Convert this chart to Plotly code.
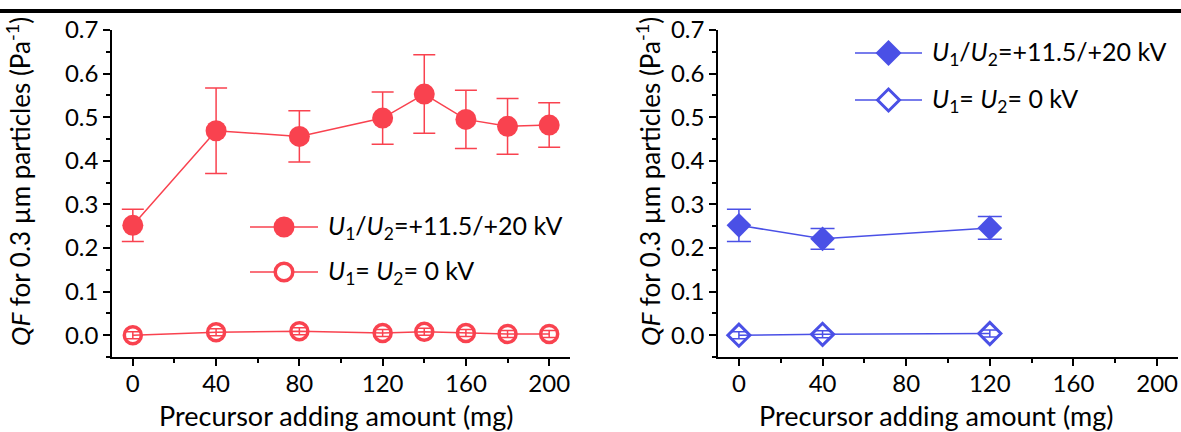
import plotly.graph_objects as go

# ---- data ----
x_left = [0, 40, 80, 120, 140, 160, 180, 200]
qf_left_on = [0.252, 0.469, 0.456, 0.498, 0.553, 0.495, 0.479, 0.482]
err_left_on = [0.037, 0.098, 0.059, 0.060, 0.090, 0.067, 0.064, 0.051]
qf_left_off = [0.000, 0.007, 0.009, 0.005, 0.008, 0.005, 0.003, 0.003]
err_left_off = [0.008, 0.008, 0.008, 0.008, 0.008, 0.008, 0.008, 0.008]

x_right = [0, 40, 120]
qf_right_on = [0.252, 0.221, 0.246]
err_right_on = [0.037, 0.024, 0.026]
qf_right_off = [0.000, 0.002, 0.004]
err_right_off = [0.008, 0.008, 0.008]

x_ticks = [0, 40, 80, 120, 160, 200]
y_ticks = [0.0, 0.1, 0.2, 0.3, 0.4, 0.5, 0.6, 0.7]

name_on = "<i>U</i><sub>1</sub>/<i>U</i><sub>2</sub>=+11.5/+20 kV"
name_off = "<i>U</i><sub>1</sub>= <i>U</i><sub>2</sub>= 0 kV"
y_title = "<i>QF</i> for 0.3 µm particles (Pa<sup>-1</sup>)"
x_title = "Precursor adding amount (mg)"

RED = "#F9424F"
BLUE = "#4A50E6"
FONT = "Lato"
FS_TICK = 24
FS_XTITLE = 27
FS_YTITLE = 26
FS_LEG = 25
W, H = 1181, 432


def px(x):
    return x / W


def py(y):
    return 1 - y / H


fig = go.Figure()

fig.add_trace(go.Scatter(
    x=x_left, y=qf_left_on, mode="lines+markers", name=name_on,
    line=dict(color=RED, width=1.5),
    marker=dict(symbol="circle", size=21, color=RED),
    error_y=dict(type="data", array=err_left_on, color=RED, thickness=1.5, width=11),
    xaxis="x", yaxis="y"))
fig.add_trace(go.Scatter(
    x=x_left, y=qf_left_off, mode="lines+markers", name=name_off,
    line=dict(color=RED, width=1.5),
    marker=dict(symbol="circle-open", size=17, color=RED, line=dict(width=3.5, color=RED)),
    error_y=dict(type="data", array=err_left_off, color=RED, thickness=1.5, width=7),
    xaxis="x", yaxis="y"))
fig.add_trace(go.Scatter(
    x=x_right, y=qf_right_on, mode="lines+markers", name=name_on,
    line=dict(color=BLUE, width=1.5),
    marker=dict(symbol="diamond", size=19, color=BLUE),
    error_y=dict(type="data", array=err_right_on, color=BLUE, thickness=1.5, width=12),
    xaxis="x2", yaxis="y2"))
fig.add_trace(go.Scatter(
    x=x_right, y=qf_right_off, mode="lines+markers", name=name_off,
    line=dict(color=BLUE, width=1.5),
    marker=dict(symbol="diamond-open", size=17, color=BLUE, line=dict(width=3, color=BLUE)),
    error_y=dict(type="data", array=err_right_off, color=BLUE, thickness=1.5, width=8),
    xaxis="x2", yaxis="y2"))

ydom = [py(357), py(30)]
axis_common = dict(
    showline=True, linecolor="black", linewidth=1.5, mirror=False,
    ticks="outside", ticklen=7, tickwidth=1.5, tickcolor="black",
    showgrid=False, zeroline=False, automargin=False,
    tickfont=dict(family=FONT, size=FS_TICK, color="black"),
)
xax = dict(axis_common, range=[-10, 210], tickvals=x_ticks, ticklabelstandoff=-3,
           minor=dict(ticks="outside", ticklen=4, tickwidth=1.5, tickcolor="black", dtick=20, tick0=0))
yax = dict(axis_common, range=[-0.05, 0.7], tickvals=y_ticks, tickformat=".1f",
           minor=dict(ticks="outside", ticklen=4, tickwidth=1.5, tickcolor="black", dtick=0.05, tick0=0))

fig.update_layout(
    width=W, height=H,
    margin=dict(l=0, r=0, t=0, b=0, autoexpand=False),
    paper_bgcolor="white", plot_bgcolor="white",
    font=dict(family=FONT, size=FS_TICK, color="black"),
    xaxis=dict(xax, domain=[px(112), px(570)], anchor="y"),
    yaxis=dict(yax, domain=ydom, anchor="x"),
    xaxis2=dict(xax, domain=[px(718), px(1178)], anchor="y2"),
    yaxis2=dict(yax, domain=ydom, anchor="x2"),
    showlegend=False,
)

# axis titles
for xc in [18, 648]:
    fig.add_annotation(text=y_title, x=px(xc), y=py(182), xref="paper", yref="paper",
                       textangle=-90, showarrow=False, xanchor="center", yanchor="middle",
                       font=dict(family=FONT, size=FS_YTITLE, color="black"))
for xc in [336, 936]:
    fig.add_annotation(text=x_title, x=px(xc), y=py(415), xref="paper", yref="paper",
                       showarrow=False, xanchor="center", yanchor="middle",
                       font=dict(family=FONT, size=FS_XTITLE, color="black"))

# legend (drawn as layout decoration)
legend_rows = [
    # (line x0, line x1, y, color, kind, filled, label)
    (250, 318, 227, RED, "circle", True, name_on),
    (250, 318, 272, RED, "circle", False, name_off),
    (855, 922, 53, BLUE, "diamond", True, name_on),
    (855, 922, 100, BLUE, "diamond", False, name_off),
]
for x0, x1, yc, col, kind, filled, label in legend_rows:
    fig.add_shape(type="line", xref="paper", yref="paper", x0=px(x0), x1=px(x1),
                  y0=py(yc), y1=py(yc), line=dict(color=col, width=1.5))
    xm = (x0 + x1) / 2
    if kind == "circle":
        r = 10.5 if filled else 8.8
        fig.add_shape(type="circle", xref="paper", yref="paper",
                      x0=px(xm - r), x1=px(xm + r), y0=py(yc + r), y1=py(yc - r),
                      fillcolor=col if filled else "white",
                      line=dict(color=col, width=0 if filled else 3.5))
    else:
        r = 13 if filled else 11
        path = "M {a},{b} L {c},{d} L {e},{b} L {c},{f} Z".format(
            a=px(xm - r), b=py(yc), c=px(xm), d=py(yc - r), e=px(xm + r), f=py(yc + r))
        fig.add_shape(type="path", xref="paper", yref="paper", path=path,
                      fillcolor=col if filled else "white",
                      line=dict(color=col, width=0 if filled else 3))
    fig.add_annotation(text=label, x=px(x1 + 8), y=py(yc), xref="paper", yref="paper",
                       showarrow=False, xanchor="left", yanchor="middle",
                       font=dict(family=FONT, size=FS_LEG, color="black"))

# top black rule
fig.add_shape(type="line", xref="paper", yref="paper", x0=0, x1=1,
              y0=py(11), y1=py(11), line=dict(color="black", width=4))

post = ("document.body.style.margin='0';document.body.style.overflow='hidden';"
        "var g=document.getElementById('{plot_id}');g.style.position='absolute';"
        "g.style.left='0px';g.style.top='0px';")
fig.write_html("out.html", post_script=post, config={"displayModeBar": False})
